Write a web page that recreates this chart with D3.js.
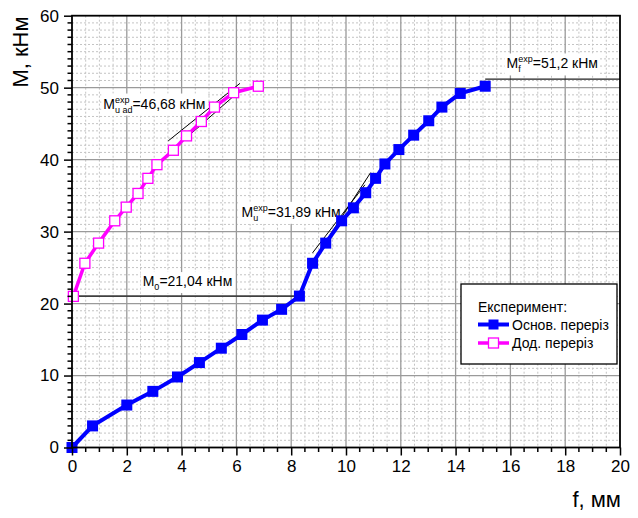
<!DOCTYPE html>
<html><head><meta charset="utf-8">
<script src="https://cdn.jsdelivr.net/npm/d3@7/dist/d3.min.js"></script>
<style>
body{margin:0;background:#fff}
svg{display:block;font-family:"Liberation Sans",Arial,sans-serif}
</style>
</head><body>
<svg id="c" width="638" height="518"></svg>
<script>
// ---- data ----
const mainF = [0, 0.75, 2.0, 2.95, 3.85, 4.65, 5.45, 6.2, 6.95, 7.65, 8.3, 8.78, 9.26, 9.84, 10.27, 10.72, 11.08, 11.42, 11.93, 12.47, 13.02, 13.5, 14.17, 15.08];
const mainM = [0, 3.0, 5.9, 7.8, 9.8, 11.8, 13.8, 15.7, 17.7, 19.2, 21.04, 25.6, 28.4, 31.5, 33.3, 35.4, 37.4, 39.4, 41.4, 43.4, 45.4, 47.3, 49.2, 50.2];
const addF = [0.05, 0.47, 0.97, 1.56, 1.98, 2.41, 2.77, 3.1, 3.7, 4.18, 4.72, 5.2, 5.9, 6.8];
const addM = [21.0, 25.6, 28.4, 31.5, 33.4, 35.3, 37.4, 39.3, 41.3, 43.3, 45.3, 47.3, 49.3, 50.2];
const seriesNames = ["Основ. переріз", "Дод. переріз"];
const legendTitle = "Експеримент:";
const xTicks = [0, 2, 4, 6, 8, 10, 12, 14, 16, 18, 20];
const yTicks = [0, 10, 20, 30, 40, 50, 60];
const xTitle = "f, мм";
const yTitle = "M, кНм";
// reference lines [x1,y1,x2,y2]
const m0Line = [0, 21.04, 8.3, 21.04];
const mfLine = [15.08, 51.2, 20, 51.2];
const tangents = [
  [3.51, 42.6, 6.13, 50.6],
  [3.27, 40.0, 6.07, 49.4],
  [8.78, 27.05, 10.69, 36.5],
  [8.9, 26.5, 10.9, 38.2]
];
// annotations
const notes = [
  {x: 2.58, y: 22.43, base: "M", sup: "", sub: "0", rest: "=21,04 кНм"},
  {x: 1.14, y: 47.1, base: "M", sup: "exp", sub: "u ad", rest: "=46,68 кНм"},
  {x: 6.19, y: 32.05, base: "M", sup: "exp", sub: "u", rest: "=31,89 кНм"},
  {x: 15.86, y: 52.67, base: "M", sup: "exp", sub: "f", rest: "=51,2 кНм"}
];

// ---- layout ----
const svg = d3.select("#c");
const L = 72, R = 620, T = 15.7, B = 447.5;
const x = d3.scaleLinear().domain([0, 20]).range([L, R]);
const y = d3.scaleLinear().domain([0, 60]).range([B, T]);

// minor grid
const g = svg.append("g");
g.selectAll(".mx").data(d3.range(0.5, 20, 0.5).filter(v => Math.abs(v % 2) > 1e-6))
  .join("line").attr("x1", d => x(d)).attr("x2", d => x(d)).attr("y1", T).attr("y2", B)
  .attr("stroke", "#c4c4c4").attr("stroke-width", 1).attr("stroke-dasharray", "2,2");
g.selectAll(".my").data(d3.range(1, 60, 1).filter(v => v % 10 !== 0))
  .join("line").attr("y1", d => y(d)).attr("y2", d => y(d)).attr("x1", L).attr("x2", R)
  .attr("stroke", "#c4c4c4").attr("stroke-width", 1).attr("stroke-dasharray", "2,2");
// major grid
g.selectAll(".Mx").data(xTicks.slice(1, -1)).join("line")
  .attr("x1", d => x(d)).attr("x2", d => x(d)).attr("y1", T).attr("y2", B)
  .attr("stroke", "#9a9a9a").attr("stroke-width", 1.3);
g.selectAll(".My").data(yTicks.slice(1, -1)).join("line")
  .attr("y1", d => y(d)).attr("y2", d => y(d)).attr("x1", L).attr("x2", R)
  .attr("stroke", "#9a9a9a").attr("stroke-width", 1.3);

// reference lines
svg.append("line").attr("x1", x(m0Line[0])).attr("y1", y(m0Line[1])).attr("x2", x(m0Line[2])).attr("y2", y(m0Line[3]))
  .attr("stroke", "#404040").attr("stroke-width", 1.8);
svg.append("line").attr("x1", x(mfLine[0])).attr("y1", y(mfLine[1])).attr("x2", x(mfLine[2])).attr("y2", y(mfLine[3]))
  .attr("stroke", "#202020").attr("stroke-width", 1.2);

// annotations
notes.forEach(n => {
  const ax = x(n.x), ay = y(n.y);
  const ng = svg.append("g");
  const bg = ng.append("rect").attr("fill", "#fff");
  const m = ng.append("text").attr("x", ax).attr("y", ay).attr("font-size", 14).text(n.base);
  const w = m.node().getComputedTextLength();
  let ws = 0;
  if (n.sup) {
    const s = ng.append("text").attr("x", ax + w).attr("y", ay - 6).attr("font-size", 9).text(n.sup);
    ws = Math.max(ws, s.node().getComputedTextLength());
  }
  if (n.sub) {
    const s = ng.append("text").attr("x", ax + w).attr("y", ay + 4).attr("font-size", 9).text(n.sub);
    ws = Math.max(ws, s.node().getComputedTextLength());
  }
  ng.append("text").attr("x", ax + w + ws).attr("y", ay).attr("font-size", 14).text(n.rest);
  const bb = ng.node().getBBox();
  bg.attr("x", bb.x - 2).attr("y", bb.y - 1).attr("width", bb.width + 4).attr("height", bb.height + 2);
});

// tangents
svg.selectAll(".tg").data(tangents).join("line")
  .attr("x1", d => x(d[0])).attr("y1", d => y(d[1])).attr("x2", d => x(d[2])).attr("y2", d => y(d[3]))
  .attr("stroke", "#000").attr("stroke-width", 1);

// series
const line = d3.line().x(d => x(d[0])).y(d => y(d[1]));
const mainData = mainF.map((f, i) => [f, mainM[i]]);
const addData = addF.map((f, i) => [f, addM[i]]);
svg.append("path").datum(addData).attr("d", line).attr("fill", "none").attr("stroke", "#ff00ff").attr("stroke-width", 3.5);
svg.selectAll(".am").data(addData).join("rect")
  .attr("x", d => x(d[0]) - 5).attr("y", d => y(d[1]) - 5).attr("width", 10).attr("height", 10)
  .attr("fill", "#fff").attr("stroke", "#ff00ff").attr("stroke-width", 1.3);
svg.append("path").datum(mainData).attr("d", line).attr("fill", "none").attr("stroke", "#0000ff").attr("stroke-width", 4);
svg.selectAll(".mm").data(mainData).join("rect")
  .attr("x", d => x(d[0]) - 5.5).attr("y", d => y(d[1]) - 5.5).attr("width", 11).attr("height", 11)
  .attr("fill", "#0000ff");

// legend
const lg = svg.append("g");
lg.append("rect").attr("x", 461).attr("y", 284).attr("width", 156).attr("height", 80)
  .attr("fill", "#fff").attr("stroke", "#000").attr("stroke-width", 1.3);
lg.append("text").attr("x", 478).attr("y", 312).attr("font-size", 14).text(legendTitle);
[["#0000ff", true], ["#ff00ff", false]].forEach((c, i) => {
  const yy = 324.5 + i * 18.5;
  lg.append("line").attr("x1", 478).attr("x2", 509).attr("y1", yy).attr("y2", yy).attr("stroke", c[0]).attr("stroke-width", c[1] ? 4 : 3.5);
  lg.append("rect").attr("x", 493.5 - 5).attr("y", yy - 5).attr("width", 10).attr("height", 10)
    .attr("fill", c[1] ? c[0] : "#fff").attr("stroke", c[0]).attr("stroke-width", c[1] ? 0 : 1.3);
  lg.append("text").attr("x", 512).attr("y", yy + 5).attr("font-size", 14).text(seriesNames[i]);
});

// axes
const xa = svg.append("g").attr("transform", `translate(0,${B})`)
  .call(d3.axisBottom(x).tickValues(xTicks).tickSize(8).tickPadding(4).tickFormat(d3.format("d")));
const ya = svg.append("g").attr("transform", `translate(${L},0)`)
  .call(d3.axisLeft(y).tickValues(yTicks).tickSize(8).tickPadding(5).tickFormat(d3.format("d")));
[xa, ya].forEach(a => {
  a.select(".domain").remove();
  a.selectAll("text").attr("font-size", 17).attr("fill", "#000").attr("font-family", '"Liberation Sans",Arial,sans-serif');
  a.selectAll("line").attr("stroke", "#000").attr("stroke-width", 1.5);
});
// minor ticks
svg.selectAll(".mtx").data(d3.range(0.5, 20, 0.5).filter(v => v % 2 !== 0)).join("line")
  .attr("x1", d => x(d)).attr("x2", d => x(d)).attr("y1", B).attr("y2", B + 4.5)
  .attr("stroke", "#000").attr("stroke-width", 1.5);
svg.selectAll(".mty").data(d3.range(1, 60, 1).filter(v => v % 10 !== 0)).join("line")
  .attr("y1", d => y(d)).attr("y2", d => y(d)).attr("x1", L).attr("x2", L - 4.5)
  .attr("stroke", "#000").attr("stroke-width", 1.5);
// frame
svg.append("rect").attr("x", L).attr("y", T).attr("width", R - L).attr("height", B - T)
  .attr("fill", "none").attr("stroke", "#000").attr("stroke-width", 1.8);

// titles
svg.append("text").attr("x", 621).attr("y", 507).attr("text-anchor", "end").attr("font-size", 22).text(xTitle);
svg.append("text").attr("transform", "translate(28,52) rotate(-90)").attr("text-anchor", "middle").attr("font-size", 22).text(yTitle);
</script>
</body></html>
